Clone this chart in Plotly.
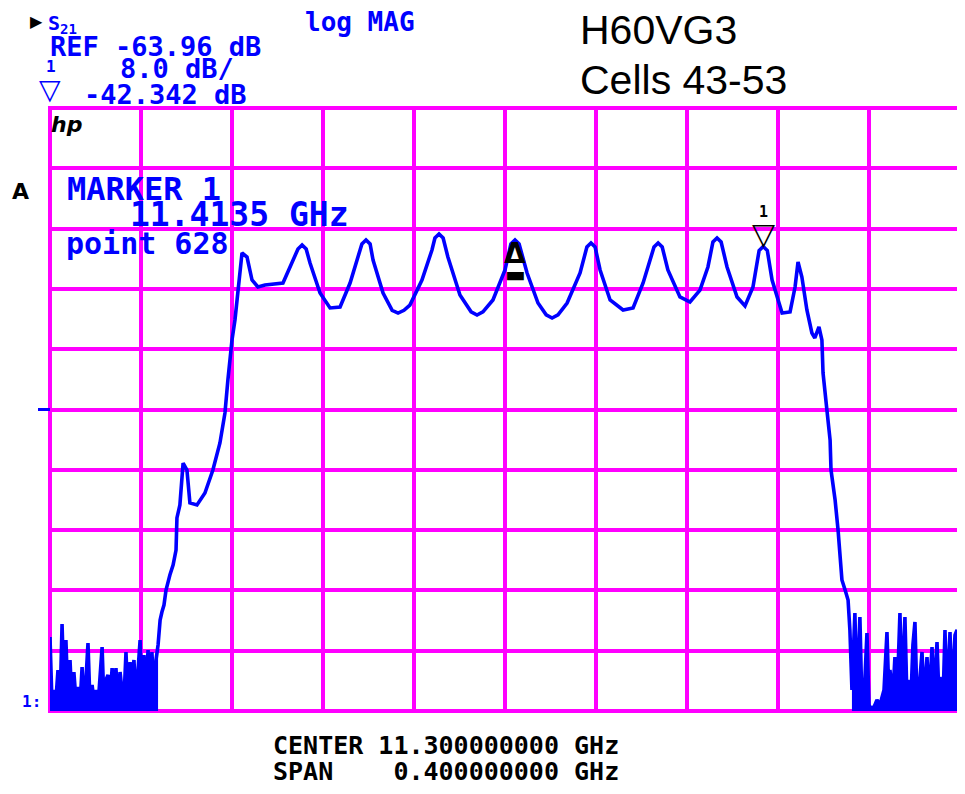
import plotly.graph_objects as go

# ---- Data (frequency in GHz, S21 in dB) ----
noise_lo_ghz = [
    11.1000, 11.1009, 11.1018, 11.1026, 11.1035, 11.1044, 11.1053, 11.1062, 11.1070, 11.1079,
    11.1088, 11.1097, 11.1105, 11.1114, 11.1123, 11.1132, 11.1141, 11.1149, 11.1158, 11.1167,
    11.1176, 11.1185, 11.1193, 11.1202, 11.1211, 11.1220, 11.1229, 11.1237, 11.1246, 11.1255,
    11.1264, 11.1273, 11.1281, 11.1290, 11.1299, 11.1308, 11.1316, 11.1325, 11.1334, 11.1343,
    11.1352, 11.1360, 11.1369, 11.1378, 11.1387, 11.1396, 11.1404, 11.1413, 11.1422, 11.1431,
    11.1440, 11.1448, 11.1457, 11.1466, 11.1475,
]
noise_lo_db = [
    -94.14, -103.16, -101.17, -102.50, -98.52, -103.16, -92.42, -101.84, -94.54, -102.50,
    -97.19, -103.30, -98.79, -102.50, -100.78, -103.16, -98.12, -102.77, -99.85, -94.94,
    -103.03, -100.51, -102.50, -101.17, -103.30, -99.18, -95.47, -102.77, -99.85, -99.18,
    -102.50, -98.26, -101.84, -98.26, -103.16, -98.79, -101.17, -102.50, -96.13, -102.90,
    -97.46, -101.17, -97.19, -102.50, -97.86, -94.54, -103.56, -96.53, -101.17, -95.87,
    -102.50, -96.13, -101.84, -97.19, -95.20,
]
skirt_lo_ghz = [
    11.1484, 11.1492, 11.1501, 11.1510, 11.1519, 11.1527, 11.1541, 11.1554, 11.1558, 11.1571,
    11.1585, 11.1602, 11.1615, 11.1646, 11.1681, 11.1716, 11.1747, 11.1769, 11.1782, 11.1800,
    11.1813, 11.1826,
]
skirt_lo_db = [
    -91.89, -90.83, -89.90, -87.91, -86.58, -85.92, -84.59, -82.60, -78.35, -76.63,
    -71.06, -71.99, -76.36, -76.63, -75.04, -71.99, -68.40, -64.42, -60.05, -54.74,
    -52.09, -48.11,
]
passband_ghz = [
    11.1844, 11.1866, 11.1888, 11.1914, 11.1945, 11.2024, 11.2068, 11.2090, 11.2108, 11.2126,
    11.2143, 11.2187, 11.2231, 11.2275, 11.2319, 11.2354, 11.2371, 11.2389, 11.2407, 11.2420,
    11.2464, 11.2504, 11.2530, 11.2556, 11.2582, 11.2635, 11.2679, 11.2692, 11.2710, 11.2728,
    11.2749, 11.2802, 11.2851, 11.2877, 11.2903, 11.2947, 11.3000, 11.3026, 11.3044, 11.3062,
    11.3097, 11.3145, 11.3181, 11.3207, 11.3233, 11.3273, 11.3330, 11.3360, 11.3378, 11.3396,
    11.3418, 11.3462, 11.3519, 11.3563, 11.3607, 11.3655, 11.3673, 11.3691, 11.3716, 11.3769,
    11.3813, 11.3857, 11.3892, 11.3914, 11.3932, 11.3950, 11.3976, 11.4020, 11.4055, 11.4090,
    11.4117, 11.4135, 11.4153, 11.4174, 11.4218, 11.4253, 11.4275, 11.4288, 11.4305, 11.4327,
    11.4349, 11.4362, 11.4380, 11.4393,
]
passband_db = [
    -43.20, -43.73, -46.78, -47.71, -47.44, -47.18, -44.13, -42.67, -42.14, -42.67,
    -44.52, -48.50, -50.49, -50.36, -47.18, -43.73, -42.00, -41.47, -42.00, -44.13,
    -48.50, -50.80, -51.16, -50.80, -50.10, -46.78, -42.80, -41.21, -40.68, -41.21,
    -43.73, -48.77, -51.00, -51.42, -51.00, -49.43, -45.45, -42.00, -41.47, -42.00,
    -45.85, -49.83, -51.40, -51.82, -51.40, -49.83, -45.85, -42.40, -41.87, -42.40,
    -45.45, -49.43, -50.76, -50.49, -47.18, -42.40, -41.87, -42.40, -45.45, -49.03,
    -49.70, -48.11, -45.05, -41.74, -41.21, -41.74, -45.05, -49.03, -50.23, -47.71,
    -42.87, -42.34, -42.87, -46.78, -51.16, -51.02, -47.71, -44.39, -46.38, -50.76,
    -53.81, -54.47, -53.01, -54.74,
]
skirt_hi_ghz = [
    11.4398, 11.4415, 11.4429, 11.4433, 11.4451, 11.4464, 11.4473, 11.4481, 11.4495, 11.4508,
    11.4516,
]
skirt_hi_db = [
    -59.12, -64.03, -68.01, -71.99, -75.97, -79.95, -83.53, -86.58, -87.91, -89.23,
    -93.21,
]
noise_hi_ghz = [
    11.4525, 11.4538, 11.4547, 11.4560, 11.4569, 11.4578, 11.4591, 11.4600, 11.4613, 11.4626,
    11.4635, 11.4648, 11.4666, 11.4679, 11.4688, 11.4692, 11.4705, 11.4714, 11.4723, 11.4736,
    11.4745, 11.4758, 11.4767, 11.4771, 11.4785, 11.4793, 11.4802, 11.4811, 11.4820, 11.4833,
    11.4842, 11.4855, 11.4864, 11.4877, 11.4886, 11.4899, 11.4908, 11.4912, 11.4925, 11.4934,
    11.4943, 11.4956, 11.4965, 11.4978, 11.4987, 11.4996, 11.5000,
]
noise_hi_db = [
    -101.17, -90.96, -102.10, -91.49, -103.16, -102.50, -93.61, -103.16, -103.83, -103.16,
    -102.50, -103.16, -101.17, -93.48, -102.50, -98.52, -101.84, -96.80, -102.50, -90.96,
    -101.17, -91.49, -102.50, -99.85, -101.84, -95.20, -92.15, -102.50, -101.17, -96.13,
    -102.50, -96.80, -102.50, -95.47, -101.84, -94.81, -102.50, -99.45, -103.16, -93.21,
    -102.50, -93.48, -101.84, -93.88, -93.21, -102.50, -96.26,
]

center_ghz = 11.3
span_ghz = 0.4
ref_db = -63.96
scale_db_per_div = 8.0
n_div = 10
marker1_ghz = 11.4135
marker1_db = -42.342
delta_ref_ghz = 11.3044
delta_ref_db = -41.47

freq_ghz = noise_lo_ghz + skirt_lo_ghz + passband_ghz + skirt_hi_ghz + noise_hi_ghz
s21_db = noise_lo_db + skirt_lo_db + passband_db + skirt_hi_db + noise_hi_db

x_lo = center_ghz - span_ghz / 2
x_hi = center_ghz + span_ghz / 2
y_lo = ref_db - scale_db_per_div * n_div / 2
y_hi = ref_db + scale_db_per_div * n_div / 2

MAG = "#ff00ff"
BLUE = "#0000ff"
# page body has an 8px margin; the plot box on the page is x 50..960, y 108..711
OFF = 8
W, H = 957, 786
L, T = 50 - OFF, 108 - OFF
R = W - (960 - OFF)
B = H - (711 - OFF)


def px(xp):
    return (xp - 50) / 910


def py(yp):
    return (711 - yp) / 603


fig = go.Figure()

# dense noise floor: the sweep's densely packed points read as a solid band
for nx, ny in ((noise_lo_ghz, noise_lo_db), (noise_hi_ghz, noise_hi_db)):
    fig.add_trace(go.Scatter(
        x=[nx[0]] + nx + [nx[-1]], y=[y_lo] + ny + [y_lo],
        mode="lines", fill="toself", fillcolor=BLUE,
        line=dict(color=BLUE, width=0), hoverinfo="skip", showlegend=False,
    ))

fig.add_trace(go.Scatter(
    x=freq_ghz, y=s21_db, mode="lines",
    line=dict(color=BLUE, width=3.6), hoverinfo="skip", showlegend=False,
))

fig.update_layout(
    width=W, height=H,
    margin=dict(l=L, r=R, t=T, b=B, pad=0),
    paper_bgcolor="white", plot_bgcolor="white",
    showlegend=False,
    xaxis=dict(range=[x_lo, x_hi], dtick=span_ghz / n_div, tick0=x_lo,
               showgrid=True, gridcolor=MAG, gridwidth=4, showline=False,
               zeroline=False, showticklabels=False, ticks=""),
    yaxis=dict(range=[y_lo, y_hi], dtick=scale_db_per_div, tick0=ref_db,
               showgrid=True, gridcolor=MAG, gridwidth=4, showline=False,
               zeroline=False, showticklabels=False, ticks=""),
)

# graticule border
fig.add_shape(type="rect", xref="paper", yref="paper", x0=0, x1=1, y0=0, y1=1,
              line=dict(color=MAG, width=4), layer="between")
# reference line
fig.add_shape(type="line", xref="paper", yref="y", x0=px(38), x1=1.0,
              y0=ref_db, y1=ref_db, line=dict(color=BLUE, width=3), layer="between")

MONO = "DejaVu Sans Mono"
SANS = "DejaVu Sans"
ann = []


def text(t, xp, yp, size, color=BLUE, family=MONO, xanchor="left", yanchor="middle"):
    ann.append(dict(text=t, x=px(xp), y=py(yp), xref="paper", yref="paper",
                    xanchor=xanchor, yanchor=yanchor, showarrow=False,
                    font=dict(family=family, size=size, color=color)))


text("▶", 28, 22, 16, color="black", family=SANS)
text("<b>S<sub>21</sub></b>", 46, 24, 20)
text("<b>log MAG</b>", 303, 22, 26)
text("<b>REF -63.96 dB</b>", 48, 46, 27)
text("<b>8.0 dB/</b>", 118, 69, 27)
text("<b>1</b>", 44, 66, 16)
text("▽", 37, 90, 28, family=SANS)
text("<b>-42.342 dB</b>", 82, 94, 27)
text("<b><i>hp</i></b>", 49, 124, 22, color="black", family=SANS)
text("<b>A</b>", 10, 191, 22, color="black", family=SANS)
text("<b>MARKER 1</b>", 65, 189, 32)
text("<b>11.4135 GHz</b>", 128, 214, 33)
text("<b>point 628</b>", 64, 243, 30)
text("H60VG3", 578, 30, 41, color="black", family="Liberation Sans")
text("Cells 43-53", 578, 80, 41, color="black", family="Liberation Sans")
text("<b>CENTER\u00a011.300000000\u00a0GHz</b>", 271, 745, 25, color="black")
text("<b>SPAN\u00a0\u00a0\u00a0\u00a00.400000000\u00a0GHz</b>", 271, 771, 25, color="black")
text("<b>1:</b>", 20, 701, 16)

# marker 1 symbol on the trace
ann.append(dict(text="<b>▽</b>", x=marker1_ghz, y=marker1_db, xref="x", yref="y",
                xanchor="center", yanchor="bottom", yshift=-6, showarrow=False,
                font=dict(family=SANS, size=30, color="black")))
ann.append(dict(text="<b>1</b>", x=marker1_ghz, y=marker1_db, xref="x", yref="y",
                xanchor="center", yanchor="bottom", yshift=24, showarrow=False,
                font=dict(family=MONO, size=15, color="black")))
# delta reference marker
ann.append(dict(text="<b>Δ</b>", x=delta_ref_ghz, y=delta_ref_db, xref="x", yref="y",
                xanchor="center", yanchor="top", yshift=5, showarrow=False,
                font=dict(family=SANS, size=28, color="black")))
ann.append(dict(text="<b>▬</b>", x=delta_ref_ghz, y=delta_ref_db, xref="x", yref="y",
                xanchor="center", yanchor="top", yshift=-20, showarrow=False,
                font=dict(family=SANS, size=22, color="black")))

fig.update_layout(annotations=ann)
fig.write_html("out.html")
